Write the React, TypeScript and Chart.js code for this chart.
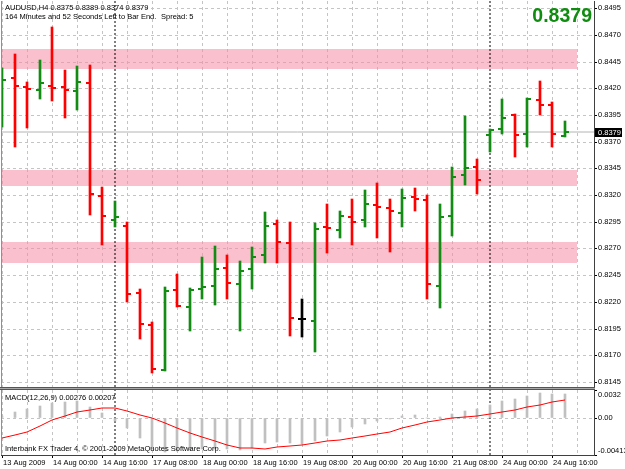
import React, { useEffect, useRef } from 'react';
import { Chart, registerables } from 'chart.js';

Chart.register(...registerables);

// ---------- data ----------
const OPEN = [0.8409,0.8430,0.8421,0.8418,0.8422,0.8421,0.8417,0.8425,0.8319,0.8297,0.8291,0.8228,0.8198,0.8156,0.8231,0.8215,0.8232,0.8235,0.8252,0.8237,0.8251,0.8264,0.8293,0.8275,0.8204,0.8202,0.8290,0.8287,0.8299,0.8297,0.8311,0.8308,0.8303,0.8318,0.8315,0.8235,0.8300,0.8339,0.8346,0.8376,0.8382,0.8395,0.8377,0.8409,0.8404,0.8375];
const HIGH = [0.8439,0.8452,0.8426,0.8446,0.8477,0.8437,0.8441,0.8442,0.8328,0.8314,0.8295,0.8232,0.8201,0.8234,0.8246,0.8233,0.8262,0.8272,0.8264,0.8258,0.8271,0.8304,0.8297,0.8295,0.8223,0.8294,0.8312,0.8305,0.8316,0.8325,0.8331,0.8316,0.8326,0.8327,0.8320,0.8312,0.8346,0.8394,0.8354,0.8382,0.8410,0.8396,0.8411,0.8427,0.8407,0.8389];
const LOW = [0.8384,0.8365,0.8383,0.8410,0.8408,0.8392,0.8400,0.8301,0.8273,0.8290,0.8220,0.8185,0.8153,0.8155,0.8215,0.8193,0.8223,0.8217,0.8223,0.8193,0.8232,0.8256,0.8256,0.8188,0.8187,0.8173,0.8266,0.8280,0.8273,0.8290,0.8280,0.8267,0.8290,0.8305,0.8223,0.8214,0.8282,0.8329,0.8321,0.8360,0.8377,0.8356,0.8365,0.8395,0.8365,0.8374];
const CLOSE = [0.8428,0.8422,0.8419,0.8425,0.8420,0.8418,0.8426,0.8321,0.8300,0.8299,0.8227,0.8199,0.8157,0.8230,0.8216,0.8231,0.8234,0.8251,0.8238,0.8249,0.8262,0.8291,0.8276,0.8205,0.8204,0.8288,0.8289,0.8300,0.8295,0.8312,0.8309,0.8305,0.8317,0.8316,0.8237,0.8299,0.8337,0.8345,0.8334,0.8381,0.8392,0.8376,0.8410,0.8404,0.8377,0.8379];

const MACD_MAIN = [0.0003,0.00069,0.00106,0.00143,0.0017,0.00188,0.0020,0.00132,0.00058,-0.0003,-0.00114,-0.00218,-0.0035,-0.0038,-0.0037,-0.0036,-0.0035,-0.0035,-0.0035,-0.0036,-0.0033,-0.0028,-0.0027,-0.0028,-0.0029,-0.0025,-0.0020,-0.0015,-0.0010,-0.0006,-0.0003,-0.0001,0.00026,0.00038,0.00007,0.0001,0.00045,0.00083,0.00102,0.00151,0.00197,0.00217,0.00256,0.00283,0.00276,0.00276];
const MACD_SIGNAL = [-0.00218,-0.0019,-0.0015,-0.0009,-0.0002,0.0003,0.00076,0.0010,0.00112,0.00114,0.00083,0.0004,0.0000,-0.0005,-0.00105,-0.0016,-0.0021,-0.0026,-0.00305,-0.0033,-0.00337,-0.0034,-0.0032,-0.0031,-0.0030,-0.0028,-0.0026,-0.0024,-0.0022,-0.0020,-0.0018,-0.0015,-0.0011,-0.0007,-0.0004,-0.0002,0.0000,0.0001,0.0003,0.0005,0.00076,0.0010,0.00125,0.0015,0.00182,0.00207];

const PRICE_TICKS = [0.8145,0.8170,0.8195,0.8220,0.8245,0.8270,0.8295,0.8320,0.8345,0.8370,0.8395,0.8420,0.8445,0.8470,0.8495];
const MACD_TICKS = [0.0032, 0, -0.00413];
const MACD_TICK_LABELS = ['0.0032', '0.00', '-0.00413'];
const GRID_BARS = [0,2,4,6,8,10,12,14,16,18,20,22,24,26,28,30,32,34,36,38,40,42,44,46];
const DATE_LABEL_BARS = [0,4,8,12,16,20,24,28,32,36,40,44];
const DATE_LABELS = ['13 Aug 2009','14 Aug 00:00','14 Aug 16:00','17 Aug 08:00','18 Aug 00:00','18 Aug 16:00','19 Aug 08:00','20 Aug 00:00','20 Aug 16:00','21 Aug 08:00','24 Aug 00:00','24 Aug 16:00'];
const SEPARATOR_BARS = [9, 39];
const ZONE_LOWS = [0.84381, 0.83285, 0.82568];
const ZONE_HIGHS = [0.84568, 0.83435, 0.82764];
const ZONE_START_BAR = -1;
const ZONE_END_BAR = 46;
const BID = 0.8379;

const HEADER = 'AUDUSD,H4 0.8375 0.8389 0.8374 0.8379';
const TIMER_TEXT = '164 Minutes and 52 Seconds Left to Bar End.';
const SPREAD_TEXT = 'Spread: 5';
const MACD_TITLE = 'MACD(12,26,9) 0.00276 0.00207';
const COPYRIGHT = 'Interbank FX Trader 4, \u00A9 2001-2009 MetaQuotes Software Corp.';

// ---------- scale limits / styling ----------
const X_MIN = -0.096;
const X_MAX = 47.344;
const Y_MIN = 0.81403;
const Y_MAX = 0.85017;
const MACD_MIN = -0.00413;
const MACD_MAX = 0.0032;

const FONT = '"Liberation Sans", Arial, sans-serif';
const FS = 7.5;
const UP = '#138c13';
const DOWN = '#ff0000';
const DOJI = '#000000';
const GRID = '#c4c4c4';
const ZONE_COLOR = 'rgba(247,140,165,0.55)';
const HIST_COLOR = '#c0c0c0';

const colorKey = (i: number) => (CLOSE[i] > OPEN[i] ? 'up' : CLOSE[i] < OPEN[i] ? 'down' : 'doji');
const COLORS: Record<string, string> = { up: UP, down: DOWN, doji: DOJI };

function makeTick(color: string, side: 'left' | 'right') {
  const c = document.createElement('canvas');
  c.width = 8;
  c.height = 2;
  const g = c.getContext('2d')!;
  g.fillStyle = color;
  g.fillRect(side === 'left' ? 0 : 4, 0, 4, 2);
  return c;
}

const noPad = (s: any) => {
  s.paddingTop = 0; s.paddingBottom = 0; s.paddingLeft = 0; s.paddingRight = 0;
};

export default function App() {
  const mainRef = useRef<HTMLCanvasElement>(null);
  const macdRef = useRef<HTMLCanvasElement>(null);

  useEffect(() => {
    const idx = OPEN.map((_, i) => i);
    const openImg: Record<string, HTMLCanvasElement> = {};
    const closeImg: Record<string, HTMLCanvasElement> = {};
    Object.keys(COLORS).forEach(k => {
      openImg[k] = makeTick(COLORS[k], 'left');
      closeImg[k] = makeTick(COLORS[k], 'right');
    });

    const xCommon = {
      type: 'linear' as const,
      min: X_MIN,
      max: X_MAX,
      offset: false,
      alignToPixels: true,
      afterBuildTicks: (s: any) => { s.ticks = GRID_BARS.map(v => ({ value: v })); },
    };

    const mainDecor = {
      id: 'mainDecor',
      afterDraw(chart: any) {
        const { ctx, chartArea: a } = chart;
        const y = chart.scales.y;
        ctx.save();
        ctx.fillStyle = '#909090';
        ctx.fillRect(a.left, a.top, 1, a.bottom - a.top);
        ctx.fillStyle = '#555555';
        ctx.fillRect(0, a.bottom, a.right + 1, 1);
        ctx.fillStyle = '#a8a8a8';
        ctx.fillRect(0, a.bottom + 1, a.right + 1, 1);

        ctx.fillStyle = '#000';
        ctx.font = `${FS}px ${FONT}`;
        ctx.textAlign = 'left';
        ctx.textBaseline = 'middle';
        ctx.fillText(HEADER, 5, 7.5);
        ctx.fillText(TIMER_TEXT, 5, 16.5);
        ctx.fillText(SPREAD_TEXT, 161, 16.5);

        ctx.font = `bold 19.5px ${FONT}`;
        ctx.fillStyle = '#108c10';
        ctx.textAlign = 'right';
        ctx.textBaseline = 'alphabetic';
        ctx.fillText(BID.toFixed(4), a.right - 2, 22);

        const py = y.getPixelForValue(BID);
        ctx.fillStyle = '#000';
        ctx.fillRect(a.right + 1, Math.round(py) - 4, 27, 9);
        ctx.fillStyle = '#fff';
        ctx.font = `${FS}px ${FONT}`;
        ctx.textAlign = 'left';
        ctx.textBaseline = 'middle';
        ctx.fillText(BID.toFixed(4), a.right + 4, Math.round(py) + 0.5);
        ctx.restore();
      },
    };

    const zoneSets: any[] = [];
    ZONE_LOWS.forEach((lo, k) => {
      zoneSets.push({
        type: 'line',
        data: [{ x: ZONE_START_BAR, y: ZONE_HIGHS[k] }, { x: ZONE_END_BAR, y: ZONE_HIGHS[k] }],
        fill: '+1', backgroundColor: ZONE_COLOR, borderColor: 'rgba(0,0,0,0)', borderWidth: 0, pointRadius: 0, order: 10,
      });
      zoneSets.push({
        type: 'line',
        data: [{ x: ZONE_START_BAR, y: lo }, { x: ZONE_END_BAR, y: lo }],
        fill: false, borderColor: 'rgba(0,0,0,0)', borderWidth: 0, pointRadius: 0, order: 11,
      });
    });

    const sepSets = (ymin: number, ymax: number) => SEPARATOR_BARS.map(b => ({
      type: 'line',
      data: [{ x: b, y: ymin }, { x: b, y: ymax }],
      borderColor: '#000', borderWidth: 1, borderDash: [2, 2], pointRadius: 0, fill: false, order: 4,
    }));

    const main = new Chart(mainRef.current!, {
      type: 'line',
      data: {
        datasets: [
          {
            type: 'bar',
            data: idx.map(i => ({ x: i, y: [LOW[i], HIGH[i]] })),
            backgroundColor: idx.map(i => COLORS[colorKey(i)]),
            barThickness: 2, borderWidth: 0, grouped: false, order: 2,
          },
          {
            type: 'line',
            data: idx.map(i => ({ x: i, y: OPEN[i] })),
            showLine: false, pointRadius: 0.5, pointBorderWidth: 0, borderWidth: 0,
            pointStyle: (c: any) => openImg[colorKey(c.dataIndex)], order: 1,
          },
          {
            type: 'line',
            data: idx.map(i => ({ x: i, y: CLOSE[i] })),
            showLine: false, pointRadius: 0.5, pointBorderWidth: 0, borderWidth: 0,
            pointStyle: (c: any) => closeImg[colorKey(c.dataIndex)], order: 0,
          },
          {
            type: 'line',
            data: [{ x: X_MIN, y: BID }, { x: X_MAX, y: BID }],
            borderColor: '#b4b4b4', borderWidth: 1, pointRadius: 0, fill: false, order: 5,
          },
          ...sepSets(Y_MIN, Y_MAX),
          ...zoneSets,
        ] as any,
      },
      options: {
        responsive: false,
        animation: false,
        events: [],
        layout: { autoPadding: false, padding: { left: 1, top: 1, right: 0, bottom: 2 } },
        plugins: { legend: { display: false }, tooltip: { enabled: false } },
        scales: {
          x: {
            ...xCommon,
            afterFit: (s: any) => { s.height = 0; noPad(s); },
            ticks: { display: false },
            grid: { color: GRID, lineWidth: 1, drawTicks: false, offset: false },
            border: { display: false, dash: [3, 3] },
          },
          y: {
            type: 'linear',
            position: 'right',
            min: Y_MIN,
            max: Y_MAX,
            beginAtZero: false,
            alignToPixels: true,
            afterBuildTicks: (s: any) => { s.ticks = PRICE_TICKS.map(v => ({ value: v })); },
            afterFit: (s: any) => { s.width = 31; noPad(s); },
            ticks: {
              autoSkip: false, padding: 1, color: '#000',
              font: { family: FONT, size: FS },
              callback: (v: any) => Number(v).toFixed(4),
            },
            grid: { color: GRID, lineWidth: 1, drawTicks: true, tickLength: 3, tickColor: '#000', tickBorderDash: [] },
            border: { display: true, color: '#404040', width: 1, dash: [3, 3] },
          },
        },
      } as any,
      plugins: [mainDecor],
    });

    const macdDecor = {
      id: 'macdDecor',
      afterDraw(chart: any) {
        const { ctx, chartArea: a } = chart;
        const y = chart.scales.y;
        ctx.save();
        ctx.fillStyle = '#555555';
        ctx.fillRect(0, 0, a.right + 1, 1);
        ctx.fillStyle = '#909090';
        ctx.fillRect(a.left, a.top, 1, a.bottom - a.top);

        ctx.fillStyle = '#000';
        ctx.font = `${FS}px ${FONT}`;
        ctx.textAlign = 'left';
        ctx.textBaseline = 'middle';
        ctx.fillText(MACD_TITLE, 5, 8.5);
        ctx.fillText(COPYRIGHT, 5, 60);

        MACD_TICKS.forEach((v, k) => {
          const p = Math.min(Math.max(y.getPixelForValue(v), a.top + 5), a.bottom - 4);
          ctx.fillText(MACD_TICK_LABELS[k], a.right + 4, p);
        });
        ctx.restore();
      },
    };

    const macd = new Chart(macdRef.current!, {
      type: 'line',
      data: {
        datasets: [
          {
            type: 'line',
            data: idx.map(i => ({ x: i, y: MACD_SIGNAL[i] })),
            borderColor: '#ff0000', borderWidth: 1, pointRadius: 0, tension: 0, fill: false, order: 1,
          },
          ...sepSets(MACD_MIN, MACD_MAX),
          {
            type: 'bar',
            data: idx.map(i => ({ x: i, y: MACD_MAIN[i] })),
            backgroundColor: HIST_COLOR, barThickness: 2, borderWidth: 0, grouped: false, order: 3,
          },
        ] as any,
      },
      options: {
        responsive: false,
        animation: false,
        events: [],
        layout: { autoPadding: false, padding: { left: 1, top: 1, right: 0, bottom: 0 } },
        plugins: { legend: { display: false }, tooltip: { enabled: false } },
        scales: {
          x: {
            ...xCommon,
            afterFit: (s: any) => { s.height = 14; noPad(s); },
            ticks: {
              autoSkip: false, maxRotation: 0, minRotation: 0, align: 'start', padding: 0, labelOffset: 1,
              color: '#000', font: { family: FONT, size: FS },
              callback: (v: any) => {
                const k = DATE_LABEL_BARS.indexOf(Number(v));
                return k >= 0 ? DATE_LABELS[k] : '';
              },
            },
            grid: {
              color: GRID, lineWidth: 1, drawTicks: true, tickLength: 3, offset: false, tickBorderDash: [],
              tickColor: (c: any) => (c.tick && DATE_LABEL_BARS.indexOf(c.tick.value) >= 0 ? '#000' : 'rgba(0,0,0,0)'),
            },
            border: { display: true, color: '#404040', dash: [3, 3] },
          },
          y: {
            type: 'linear',
            position: 'right',
            min: MACD_MIN,
            max: MACD_MAX,
            beginAtZero: false,
            alignToPixels: true,
            afterBuildTicks: (s: any) => { s.ticks = MACD_TICKS.map(v => ({ value: v })); },
            afterFit: (s: any) => { s.width = 31; noPad(s); },
            ticks: { display: false },
            grid: {
              lineWidth: 1, drawTicks: true, tickLength: 3, tickColor: '#000', tickBorderDash: [],
              color: (c: any) => (c.tick && c.tick.value === 0 ? GRID : 'rgba(0,0,0,0)'),
            },
            border: { display: true, color: '#404040', width: 1, dash: [3, 3] },
          },
        },
      } as any,
      plugins: [macdDecor],
    });

    return () => {
      main.destroy();
      macd.destroy();
    };
  }, []);

  return (
    <div style={{ position: 'absolute', left: 0, top: 0, width: 625, height: 469, background: '#fff' }}>
      <canvas ref={mainRef} width={625} height={389} style={{ position: 'absolute', left: 0, top: 0, display: 'block' }} />
      <canvas ref={macdRef} width={625} height={80} style={{ position: 'absolute', left: 0, top: 389, display: 'block' }} />
    </div>
  );
}
